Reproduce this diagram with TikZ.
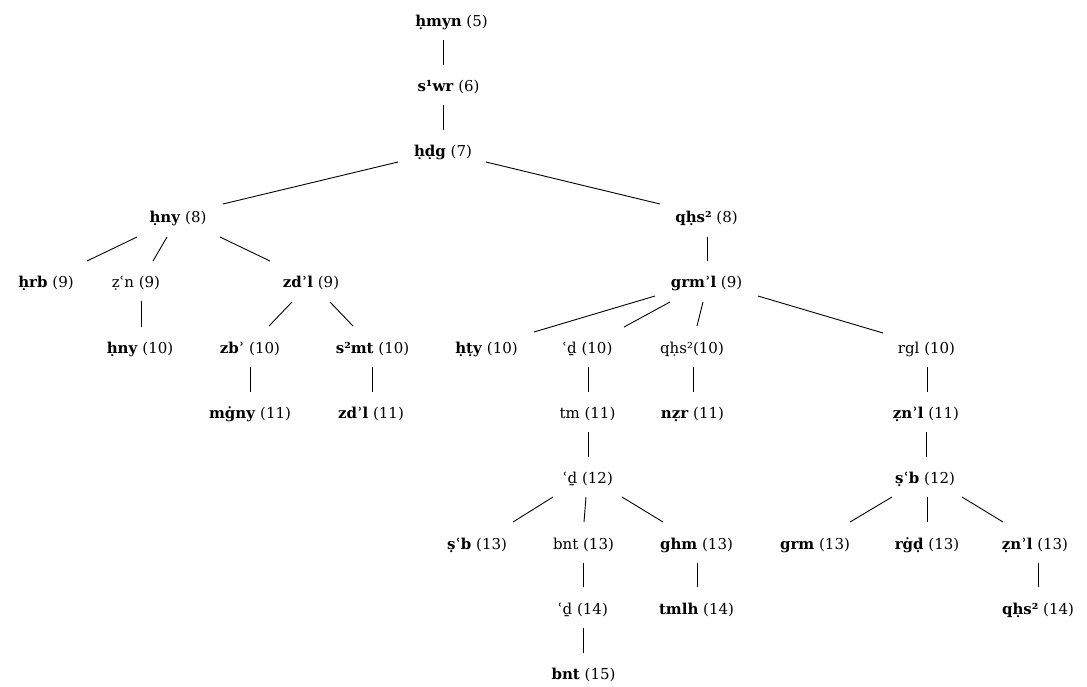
\documentclass[tikz,border=0pt]{standalone}
\usepackage{fontspec}
\setmainfont{DejaVu Serif}
\usetikzlibrary{calc}
\tikzset{
  lbl/.style={inner sep=0pt, anchor=base, font=\fontsize{15}{18}\selectfont},
  link/.style={line width=0.9pt, black}
}
\newcommand{\lnk}[6]{\draw[link] ($(#1.base)+(#2)$) -- ($(#4.base)+(#5)$);}
\begin{document}
\begin{tikzpicture}[x=1pt,y=-1pt]
\useasboundingbox (0,0) rectangle (1087,686);
% row 1-3
\node[lbl] (hmyn) at (451.5,26) {\textbf{ḥmyn} (5)};
\node[lbl] (swr) at (448.5,91) {\textbf{s¹wr} (6)};
\node[lbl] (hdg) at (443,156) {\textbf{ḥḍg} (7)};
% row 4
\node[lbl] (hnyA) at (178,222) {\textbf{ḥny} (8)};
\node[lbl] (qhsA) at (706.5,222) {\textbf{qḥs²} (8)};
% row 5
\node[lbl] (hrb) at (46,287) {\textbf{ḥrb} (9)};
\node[lbl] (zcn) at (136,287) {ẓʿn (9)};
\node[lbl] (zdlA) at (311,287) {\textbf{zdʾl} (9)};
\node[lbl] (grml) at (706.5,287) {\textbf{grmʾl} (9)};
% row 6
\node[lbl] (hnyB) at (140,353) {\textbf{ḥny} (10)};
\node[lbl] (zb) at (250,353) {\textbf{zbʾ} (10)};
\node[lbl] (smt) at (372.5,353) {\textbf{s²mt} (10)};
\node[lbl] (hty) at (486.5,353) {\textbf{ḥṭy} (10)};
\node[lbl] (cdA) at (587.5,353) {ʿḏ (10)};
\node[lbl] (qhsB) at (692,353) {qḥs²(10)};
\node[lbl] (rgl) at (926.5,353) {rgl (10)};
% row 7
\node[lbl] (mgny) at (250,418) {\textbf{mġny} (11)};
\node[lbl] (zdlB) at (371,418) {\textbf{zdʾl} (11)};
\node[lbl] (tm) at (587.5,418) {tm (11)};
\node[lbl] (nzr) at (692.5,418) {\textbf{nẓr} (11)};
\node[lbl] (znlA) at (926,418) {\textbf{ẓnʾl} (11)};
% row 8
\node[lbl] (cdB) at (588,483.5) {ʿḏ (12)};
\node[lbl] (sbA) at (925,483.5) {\textbf{ṣʿb} (12)};
% row 9
\node[lbl] (sbB) at (477,549) {\textbf{ṣʿb} (13)};
\node[lbl] (bntA) at (583.5,549) {bnt (13)};
\node[lbl] (ghm) at (696.5,549) {\textbf{ghm} (13)};
\node[lbl] (grm) at (815,549) {\textbf{grm} (13)};
\node[lbl] (rgd) at (927,549) {\textbf{rġḍ} (13)};
\node[lbl] (znlB) at (1035,549) {\textbf{ẓnʾl} (13)};
% row 10
\node[lbl] (cdC) at (583,614) {ʿḏ (14)};
\node[lbl] (tmlh) at (696.5,614) {\textbf{tmlh} (14)};
\node[lbl] (qhsC) at (1038,614) {\textbf{qḥs²} (14)};
% row 11
\node[lbl] (bntB) at (583.5,679) {\textbf{bnt} (15)};
% connectors
\lnk{hmyn}{-8.5,14}{}{swr}{-5.5,-26}{}
\lnk{swr}{-5.5,14}{}{hdg}{0,-26}{}
\lnk{hdg}{-45,6}{}{hnyA}{45,-18}{}
\lnk{hdg}{43,6}{}{qhsA}{-46.5,-18}{}
\lnk{hnyA}{-41,15}{}{hrb}{41,-26}{}
\lnk{hnyA}{-11,15}{}{zcn}{17,-26}{}
\lnk{hnyA}{42,15}{}{zdlA}{-41,-26}{}
\lnk{zcn}{5,14}{}{hnyB}{1,-26}{}
\lnk{zdlA}{-19,15}{}{zb}{19,-27}{}
\lnk{zdlA}{19,15}{}{smt}{-19.5,-27}{}
\lnk{zb}{0,14}{}{mgny}{0,-26}{}
\lnk{smt}{-0.5,14}{}{zdlB}{1,-26}{}
\lnk{qhsA}{0.5,15}{}{grml}{0.5,-26}{}
\lnk{grml}{-51.5,9}{}{hty}{47.5,-21}{}
\lnk{grml}{-36.5,15}{}{cdA}{36.5,-26}{}
\lnk{grml}{-3.5,15}{}{qhsB}{5,-27}{}
\lnk{grml}{51.5,9}{}{rgl}{-43.5,-20}{}
\lnk{cdA}{0.5,14}{}{tm}{0.5,-26}{}
\lnk{qhsB}{1,14}{}{nzr}{0.5,-26}{}
\lnk{rgl}{0.5,14}{}{znlA}{1,-26}{}
\lnk{tm}{0.5,14}{}{cdB}{0,-26.5}{}
\lnk{znlA}{0,14}{}{sbA}{1,-26.5}{}
\lnk{cdB}{-35,13.5}{}{sbB}{36,-27}{}
\lnk{cdB}{-2,13.5}{}{bntA}{0.5,-27}{}
\lnk{cdB}{34,13.5}{}{ghm}{-33.5,-27}{}
\lnk{sbA}{-33,13.5}{}{grm}{35,-27}{}
\lnk{sbA}{2,13.5}{}{rgd}{0,-27}{}
\lnk{sbA}{37,13.5}{}{znlB}{-32,-27}{}
\lnk{bntA}{-0.5,14}{}{cdC}{0,-27}{}
\lnk{ghm}{0.5,14}{}{tmlh}{0.5,-27}{}
\lnk{znlB}{3,14}{}{qhsC}{0,-27}{}
\lnk{cdC}{0,14}{}{bntB}{-0.5,-26}{}
\end{tikzpicture}
\end{document}
